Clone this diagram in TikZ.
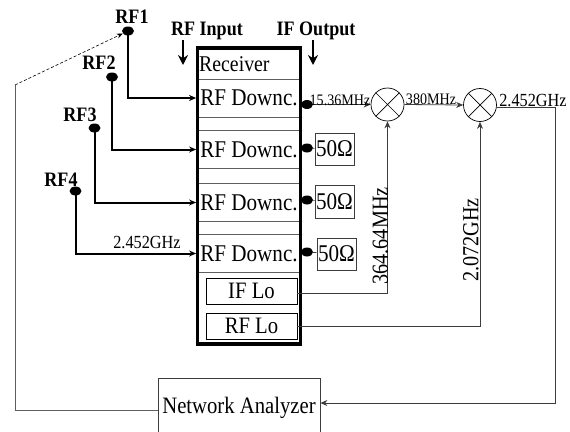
\documentclass[tikz,border=0pt]{standalone}
\usepackage{fontspec}
\setmainfont[FakeStretch=0.88]{Liberation Serif}
\definecolor{rxgray}{RGB}{95,95,95}
\definecolor{rxline}{RGB}{60,60,60}
\usetikzlibrary{arrows.meta,positioning,shapes.geometric,calc}

\begin{document}
\begin{tikzpicture}[
    x=1pt, y=-1pt,
    rowbox/.style={rectangle, draw=rxgray, line width=0.8pt, minimum width=105pt, minimum height=38pt,
      inner sep=0pt, font=\fontsize{24}{24}\selectfont},
    lobox/.style={rectangle, draw=black, line width=0.8pt, minimum width=91pt, minimum height=26pt,
      inner sep=0pt, font=\fontsize{23.5}{24}\selectfont},
    ohmbox/.style={rectangle, draw=rxline, line width=0.7pt, minimum width=39pt, minimum height=32pt,
      inner sep=0pt, font=\fontsize{24}{24}\selectfont},
    dotnode/.style={ellipse, fill=black, inner sep=0pt, minimum width=12pt, minimum height=9pt},
    mixer/.style={circle, draw=black, line width=0.7pt, minimum size=33pt, inner sep=0pt,
      path picture={\draw[line width=0.7pt] (path picture bounding box.north west) -- (path picture bounding box.south east)
        (path picture bounding box.north east) -- (path picture bounding box.south west);}},
    portlabel/.style={inner sep=0pt, font=\fontsize{20.5}{22}\selectfont\bfseries},
    freqsmall/.style={inner sep=0pt, font=\fontsize{16}{18}\selectfont},
    freqmid/.style={inner sep=0pt, font=\fontsize{18.5}{20}\selectfont},
    freqlong/.style={inner sep=0pt, rotate=90, font=\fontsize{23}{24}\selectfont},
    feed/.style={-{Stealth[length=7pt,width=6pt]}, line width=2pt, black},
    thinfeed/.style={-{Stealth[length=7pt,width=6pt]}, line width=0.8pt, rxline}
  ]
    \path[use as bounding box, clip] (0,0) rectangle (570,431);

    % Receiver rows
    \node[rowbox] (row1) at (249,98)    {RF Downc.};
    \node[rowbox] (row2) at (249,149.5) {RF Downc.};
    \node[rowbox] (row3) at (249,202.5) {RF Downc.};
    \node[rowbox] (row4) at (249,253.5) {RF Downc.};
    \node[rectangle, draw=rxgray, line width=0.8pt, minimum width=105pt, minimum height=32pt] (rxhead) at (249,63) {};
    \node[anchor=west, inner sep=0pt, font=\fontsize{22.5}{24}\selectfont] (rxlabel) at (199,64) {Receiver};
    \node[lobox] (iflo) at (251.5,291) {IF Lo};
    \node[lobox] (rflo) at (251.5,326) {RF Lo};
    \node[rectangle, draw=black, line width=3.5pt, minimum width=103pt, minimum height=296pt] (receiver) at (249,196) {};

    % Probe points
    \node[dotnode] (rf1) at (128,31)  {};
    \node[dotnode] (rf2) at (112,77)  {};
    \node[dotnode] (rf3) at (94.5,128) {};
    \node[dotnode] (rf4) at (75.5,191) {};
    \node[portlabel] (rf1label) at (132,17) {RF1};
    \node[portlabel] (rf2label) at (99,63)  {RF2};
    \node[portlabel] (rf3label) at (80,115) {RF3};
    \node[portlabel] (rf4label) at (61,180) {RF4};

    \draw[feed] (rf1.center) |- (row1.west);
    \draw[feed] (rf2.center) |- (row2.west);
    \draw[feed] (rf3.center) |- (row3.west);
    \draw[feed] (rf4.center) |- (row4.west);
    \node[freqmid] (rf4freq) at (147,243) {2.452GHz};

    % Port titles
    \node[portlabel] (rfinput)  at (207,31) {RF Input};
    \node[portlabel] (ifoutput) at (316,31) {IF Output};
    \coordinate (rfin1) at (183,40);
    \coordinate (rfin2) at (183,65);
    \coordinate (ifout1) at (313,40);
    \coordinate (ifout2) at (313,65);
    \draw[-{Stealth[length=10pt,width=10pt]}, line width=2pt] (rfin1) -- (rfin2);
    \draw[-{Stealth[length=10pt,width=10pt]}, line width=2pt] (ifout1) -- (ifout2);

    % Outputs and loads
    \node[dotnode] (out1) at (307,104.5) {};
    \node[dotnode] (out2) at (307,148)   {};
    \node[dotnode] (out3) at (307,200)   {};
    \node[dotnode] (out4) at (307,252)   {};
    \node[ohmbox] (ohm2) at (334.5,149) {50Ω};
    \node[ohmbox, minimum height=33pt] (ohm3) at (334.5,201.5) {50Ω};
    \node[ohmbox] (ohm4) at (336.5,254) {50Ω};
    \draw[line width=0.7pt, rxline] (out2) -- (ohm2);
    \draw[line width=0.7pt, rxline] (out3) -- (ohm3);
    \draw[line width=0.7pt, rxline] (out4) -- (ohm4);

    % Mixers
    \node[mixer] (mix1) at (387.5,104.5) {};
    \node[mixer] (mix2) at (480,105)     {};
    \draw[thinfeed] (out1) -- (mix1.west);
    \draw[thinfeed] (mix1.east) -- (mix2.west);
    \draw[thinfeed] ([yshift=-2]iflo.east) -| (mix1.south);
    \draw[thinfeed] (rflo.east) -| (mix2.south);
    \node[freqsmall] (if1freq) at (340,100) {15.36MHz};
    \node[freqsmall] (if2freq) at (431,99)  {380MHz};
    \node[freqmid]   (rffreq)  at (533,101) {2.452GHz};
    \node[freqlong]  (iflofreq) at (380.5,236) {364.64MHz};
    \node[freqlong]  (rflofreq) at (471,240)   {2.072GHz};

    % Analyzer loop
    \node[rectangle, draw=rxline, line width=0.8pt, minimum width=162pt, minimum height=60pt,
      inner sep=0pt, font=\fontsize{23.5}{24}\selectfont] (analyzer) at (239,408) {Network Analyzer};
    \coordinate (nacorner) at (555,403);
    \coordinate (nabend) at (15,85);
    \draw[thinfeed] (mix2.-8) -| (nacorner) -- (analyzer.east |- nacorner);
    \draw[line width=0.9pt, rxgray] ([yshift=-2]analyzer.west) -| (nabend);
    \draw[-{Stealth[length=6pt,width=5pt]}, densely dashed, line width=0.6pt] (nabend) -- (rf1);
\end{tikzpicture}
\end{document}
